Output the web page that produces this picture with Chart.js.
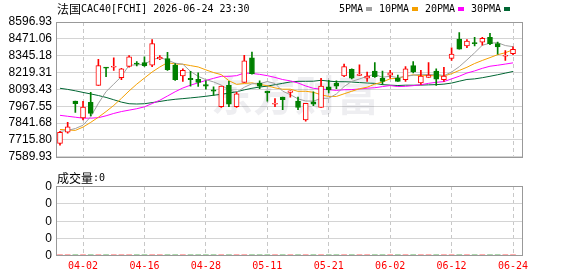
<!DOCTYPE html>
<html>
<head>
<meta charset="utf-8">
<script src="https://cdn.jsdelivr.net/npm/chart.js@4.4.1/dist/chart.umd.min.js"></script>
<style>
  html, body { margin: 0; padding: 0; background: #fff; }
  #wrap { position: relative; width: 578px; height: 276px; overflow: hidden; }
  #main { position: absolute; left: 0; top: 0; }
  #vol { position: absolute; left: 0; top: 166px; }
</style>
</head>
<body>
<div id="wrap">
  <canvas id="main" width="578" height="168"></canvas>
  <canvas id="vol" width="578" height="110"></canvas>
</div>
<script>
// trading days shown
const dates = ["03-30","03-31","04-01","04-02","04-07","04-08","04-09","04-10","04-13","04-14",
  "04-15","04-16","04-17","04-20","04-21","04-22","04-23","04-24","04-27","04-28",
  "04-29","04-30","05-04","05-05","05-06","05-07","05-08","05-11","05-12","05-13",
  "05-14","05-15","05-18","05-19","05-20","05-21","05-22","05-25","05-26","05-27",
  "05-28","05-29","06-01","06-02","06-03","06-04","06-05","06-08","06-09","06-10",
  "06-11","06-12","06-15","06-16","06-17","06-18","06-19","06-22","06-23","06-24"];

const opens = [7690.6, 7773.0, 8005.4, 7880.8, 7996.0, 8123.0, 8258.9, 8258.9, 8181.5, 8265.9,
  8289.2, 8294.1, 8275.1, 8320.2, 8324.4, 8275.1, 8193.4, 8176.5, 8169.5, 8130.0,
  8089.9, 7965.3, 8123.0, 7965.3, 8146.2, 8329.3, 8141.3, 8080.7, 7982.2, 8035.7,
  8071.0, 8005.4, 7864.6, 8000.5, 7958.2, 8113.1, 8141.3, 8193.4, 8242.7, 8197.6,
  8176.5, 8230.7, 8176.5, 8200.5, 8176.5, 8167.0, 8270.9, 8141.3, 8183.5, 8230.7,
  8165.3, 8324.4, 8470.2, 8418.8, 8439.9, 8447.0, 8482.1, 8435.0, 8341.3, 8359.6];
const highs = [7780.0, 7848.0, 8005.4, 8005.0, 8070.9, 8317.4, 8258.9, 8329.3, 8250.0, 8345.5,
  8301.2, 8336.4, 8465.3, 8345.5, 8369.5, 8287.1, 8247.0, 8228.6, 8216.7, 8158.2,
  8113.1, 8118.1, 8153.3, 8070.9, 8348.4, 8371.6, 8158.2, 8080.7, 8024.4, 8035.7,
  8083.0, 8035.7, 7989.2, 8075.8, 8176.5, 8160.3, 8158.2, 8282.2, 8247.0, 8277.9,
  8223.7, 8294.1, 8230.7, 8235.7, 8200.5, 8263.8, 8301.2, 8235.7, 8294.1, 8247.0,
  8258.9, 8404.7, 8517.3, 8465.3, 8482.1, 8482.1, 8512.4, 8447.0, 8383.6, 8411.7];
const lows = [7676.5, 7766.0, 7922.0, 7864.6, 7894.8, 8123.0, 8188.5, 8235.7, 8165.3, 8258.9,
  8268.0, 8265.9, 8263.8, 8315.3, 8235.7, 8160.3, 8153.3, 8118.1, 8115.0, 8094.8,
  8047.7, 7958.2, 7965.3, 7958.2, 8146.2, 8207.5, 8099.0, 8005.4, 7965.3, 7942.0,
  8035.7, 7942.0, 7855.4, 7972.3, 7958.2, 8066.7, 8099.0, 8188.5, 8172.3, 8197.6,
  8153.3, 8183.5, 8130.0, 8176.5, 8153.3, 8153.3, 8216.7, 8130.0, 8183.5, 8123.0,
  8153.3, 8310.3, 8394.8, 8404.7, 8418.8, 8423.0, 8428.0, 8357.5, 8310.3, 8352.5];
const closes = [7773.0, 7813.0, 7986.0, 7961.0, 7913.8, 8270.9, 8251.9, 8266.0, 8246.9, 8336.4,
  8282.2, 8270.9, 8435.0, 8334.3, 8239.9, 8165.3, 8235.7, 8165.3, 8146.2, 8118.1,
  8080.7, 8118.1, 7982.2, 8059.6, 8306.1, 8211.7, 8118.1, 8066.7, 7986.4, 8017.3,
  8082.9, 7958.2, 7989.2, 7982.2, 8118.1, 8089.9, 8118.1, 8263.8, 8176.5, 8207.5,
  8193.4, 8188.5, 8153.3, 8216.7, 8153.3, 8247.0, 8223.7, 8193.4, 8200.5, 8169.5,
  8193.4, 8357.5, 8394.8, 8454.0, 8435.0, 8475.1, 8435.0, 8411.7, 8348.4, 8392.7];

const ma5 = [7780.0, 7787.1, 7801.2, 7825.8, 7889.4, 7988.9, 8076.7, 8132.7, 8189.9, 8274.4,
  8276.7, 8280.5, 8314.3, 8331.8, 8312.5, 8289.1, 8282.0, 8228.1, 8190.5, 8166.1,
  8149.2, 8125.7, 8089.1, 8071.7, 8109.3, 8135.5, 8135.5, 8152.4, 8137.8, 8080.0,
  8054.3, 8022.3, 8006.8, 8006.0, 8026.0, 8027.5, 8059.5, 8114.4, 8153.3, 8171.2,
  8191.9, 8205.9, 8183.8, 8191.9, 8181.0, 8191.8, 8198.8, 8206.8, 8203.6, 8206.8,
  8196.1, 8222.9, 8263.1, 8313.8, 8366.9, 8423.3, 8438.8, 8442.2, 8421.0, 8412.6];
const ma10 = [7794.1, 7790.6, 7787.1, 7811.8, 7847.0, 7885.7, 7927.9, 7973.7, 8026.5, 8081.9,
  8132.8, 8178.6, 8223.5, 8260.8, 8293.4, 8282.9, 8281.3, 8271.2, 8261.1, 8239.3,
  8219.1, 8203.9, 8158.6, 8131.1, 8137.7, 8142.4, 8130.6, 8120.8, 8104.8, 8094.7,
  8094.9, 8078.9, 8079.6, 8071.9, 8053.1, 8040.9, 8040.9, 8060.6, 8079.6, 8098.6,
  8109.7, 8132.7, 8149.1, 8172.6, 8176.1, 8191.8, 8202.4, 8195.3, 8197.7, 8193.9,
  8193.9, 8210.8, 8235.0, 8258.7, 8286.9, 8309.7, 8330.8, 8352.7, 8367.4, 8389.8];
const ma20 = [7899.8, 7892.7, 7885.7, 7878.6, 7878.6, 7882.2, 7896.3, 7913.8, 7927.9, 7938.5,
  7949.1, 7963.1, 7987.8, 8012.4, 8044.1, 8075.8, 8104.0, 8125.1, 8142.7, 8160.6,
  8176.0, 8191.2, 8191.0, 8196.0, 8215.6, 8212.6, 8205.9, 8196.0, 8182.9, 8167.0,
  8157.0, 8141.4, 8119.1, 8101.5, 8095.4, 8091.6, 8085.8, 8090.7, 8092.2, 8096.7,
  8102.3, 8105.8, 8114.4, 8122.2, 8114.6, 8116.4, 8121.6, 8128.0, 8138.7, 8146.3,
  8151.8, 8171.8, 8192.1, 8215.6, 8231.5, 8250.8, 8266.6, 8274.0, 8282.6, 8291.8];
const ma30 = [8101.9, 8093.4, 8082.9, 8070.9, 8059.6, 8047.7, 8033.6, 8016.0, 7998.4, 7986.4,
  7984.3, 7986.4, 7994.8, 8003.3, 8012.4, 8019.5, 8024.4, 8030.0, 8035.7, 8042.0,
  8049.8, 8056.8, 8065.3, 8075.8, 8089.9, 8101.9, 8111.0, 8118.1, 8128.6, 8138.6,
  8149.0, 8153.8, 8153.9, 8154.6, 8161.4, 8155.4, 8150.9, 8150.9, 8148.5, 8144.2,
  8141.2, 8138.5, 8129.1, 8125.2, 8122.3, 8125.0, 8124.6, 8125.6, 8127.4, 8129.1,
  8132.8, 8140.8, 8154.6, 8167.7, 8172.0, 8180.8, 8191.4, 8202.9, 8215.0, 8227.4];

const volumes = [0,0,0,0,0,0,0,0,0,0, 0,0,0,0,0,0,0,0,0,0, 0,0,0,0,0,0,0,0,0,0,
  0,0,0,0,0,0,0,0,0,0, 0,0,0,0,0,0,0,0,0,0, 0,0,0,0,0,0,0,0,0,0];

const priceTicks = [8596.93, 8471.06, 8345.18, 8219.31, 8093.43, 7967.55, 7841.68, 7715.80, 7589.93];
const volumeTicks = ["0", "0", "0", "0", "0"];
const dateTicks = ["04-02", "04-16", "04-28", "05-11", "05-21", "06-02", "06-12", "06-24"];

const titleText = "法国CAC40[FCHI] 2026-06-24 23:30";
const volumeText = "成交量:0";
const watermark = "东方财富";
const maNames = ["5PMA", "10PMA", "20PMA", "30PMA"];
const maColors = ["#a0a0a0", "#f5a000", "#ff00ff", "#006633"];

const RED = "#ff0000";
const GREEN = "#008000";
const isUp = i => closes[i] >= opens[i];

// x range so that candle centres line up with the reference
const xMin = -0.52, xMax = 60.17;

function drawMixed(ctx, text, x, y) {
  for (const ch of text) {
    const cjk = /[\u3000-\u9fff\uff00-\uffef]/.test(ch);
    ctx.font = cjk ? '12px "Noto Sans CJK SC"' : '10px "DejaVu Sans Mono"';
    ctx.fillText(ch, x, y);
    x += ctx.measureText(ch).width;
  }
  return x;
}

const frame = {
  id: "frame",
  afterDraw(chart) {
    const { ctx, chartArea: a } = chart;
    ctx.save();
    ctx.strokeStyle = "#999";
    ctx.lineWidth = 1;
    ctx.strokeRect(Math.round(a.left) + 0.5, Math.round(a.top) + 0.5,
      Math.round(a.right - a.left), Math.round(a.bottom - a.top));
    ctx.restore();
  }
};

const mainText = {
  id: "mainText",
  beforeDatasetsDraw(chart) {
    const { ctx } = chart;
    ctx.save();
    ctx.font = 'bold 42px "Noto Sans CJK SC"';
    ctx.fillStyle = "rgba(20,20,60,0.07)";
    ctx.textAlign = "center";
    ctx.textBaseline = "middle";
    ctx.fillText(watermark, 295, 95);
    ctx.restore();
  },
  afterDraw(chart) {
    const { ctx } = chart;
    ctx.save();
    ctx.fillStyle = "#000";
    ctx.textBaseline = "middle";
    drawMixed(ctx, titleText, 57, 9);
    let x = 339;
    maNames.forEach((name, k) => {
      ctx.fillStyle = "#000";
      x = drawMixed(ctx, name, x, 9);
      ctx.fillStyle = maColors[k];
      ctx.fillRect(Math.round(x) + 3, 7, 6, 4);
      x = Math.round(x) + 16;
    });
    ctx.restore();
  }
};

// volume panel: its value axis is all zero, so lines and "0" labels are placed
// from the y scale directly
const volText = {
  id: "volText",
  beforeDatasetsDraw(chart) {
    const { ctx, chartArea: a, scales: { y } } = chart;
    ctx.save();
    ctx.strokeStyle = "#d4d4d4";
    ctx.lineWidth = 1;
    ctx.fillStyle = "#000";
    ctx.font = '12px "Liberation Sans"';
    ctx.textAlign = "right";
    ctx.textBaseline = "middle";
    volumeTicks.forEach((t, i) => {
      const py = Math.round(y.getPixelForValue(i)) + 0.5;
      ctx.beginPath();
      ctx.moveTo(a.left, py);
      ctx.lineTo(a.right, py);
      ctx.stroke();
      ctx.fillText(t, a.left - 4, py);
    });
    ctx.restore();
  },
  afterDraw(chart) {
    const { ctx } = chart;
    ctx.save();
    ctx.fillStyle = "#000";
    ctx.textBaseline = "middle";
    drawMixed(ctx, volumeText, 57, 12);
    ctx.restore();
  }
};

const xTicks = s => { s.ticks = dateTicks.map(d => ({ value: dates.indexOf(d) })); };

new Chart(document.getElementById("main"), {
  type: "bar",
  data: {
    datasets: [
      {
        label: "body",
        data: dates.map((d, i) => ({ x: i, y: [opens[i], closes[i]] })),
        grouped: false,
        barThickness: 5,
        minBarLength: 1,
        borderWidth: 1,
        borderSkipped: false,
        backgroundColor: c => isUp(c.dataIndex) ? "#ffffff" : GREEN,
        borderColor: c => isUp(c.dataIndex) ? RED : GREEN,
        order: 0
      },
      {
        label: "wick",
        data: dates.map((d, i) => ({ x: i, y: [lows[i], highs[i]] })),
        grouped: false,
        barThickness: 1,
        borderWidth: 0,
        backgroundColor: c => isUp(c.dataIndex) ? RED : GREEN,
        order: 1
      },
      ...[ma5, ma10, ma20, ma30].map((arr, k) => ({
        type: "line",
        label: maNames[k],
        data: arr.map((v, i) => ({ x: i, y: v })),
        borderColor: maColors[k],
        borderWidth: 1,
        pointRadius: 0,
        tension: 0,
        order: 10 + k
      }))
    ]
  },
  options: {
    responsive: false,
    animation: false,
    events: [],
    layout: { padding: { left: 0, right: 56, top: 22, bottom: 3 } },
    plugins: { legend: { display: false }, tooltip: { enabled: false } },
    scales: {
      x: {
        type: "linear",
        min: xMin,
        max: xMax,
        offset: false,
        afterBuildTicks: xTicks,
        ticks: { display: false, autoSkip: false },
        grid: { color: "#c8c8c8", drawTicks: false, offset: false },
        border: { display: false, dash: [4, 3] },
        afterFit: s => { s.height = 0; }
      },
      y: {
        min: priceTicks[priceTicks.length - 1],
        max: priceTicks[0],
        afterBuildTicks: s => { s.ticks = priceTicks.map(v => ({ value: v })); },
        ticks: {
          autoSkip: false,
          callback: v => v.toFixed(2),
          color: "#000",
          padding: 4,
          font: { family: "Liberation Sans", size: 12 }
        },
        grid: { color: "#d4d4d4", drawTicks: false },
        border: { display: false },
        afterFit: s => { s.width = 56; }
      }
    }
  },
  plugins: [mainText, frame]
});

new Chart(document.getElementById("vol"), {
  type: "bar",
  data: {
    datasets: [{
      label: "volume",
      data: volumes.map((v, i) => ({ x: i, y: v })),
      barThickness: 5,
      backgroundColor: c => isUp(c.dataIndex) ? RED : GREEN
    }]
  },
  options: {
    responsive: false,
    animation: false,
    events: [],
    layout: { padding: { left: 0, right: 56, top: 20, bottom: 0 } },
    plugins: { legend: { display: false }, tooltip: { enabled: false } },
    scales: {
      x: {
        type: "linear",
        min: xMin,
        max: xMax,
        offset: false,
        afterBuildTicks: xTicks,
        ticks: {
          autoSkip: false,
          maxRotation: 0,
          padding: 5,
          color: RED,
          font: { family: "DejaVu Sans Mono", size: 10 },
          callback: v => dates[v]
        },
        grid: { color: "#c8c8c8", drawTicks: false, offset: false },
        border: { display: false, dash: [4, 3] },
        afterFit: s => { s.height = 21; }
      },
      y: {
        min: 0,
        max: volumeTicks.length - 1,
        afterDataLimits: s => { s.min = 0; s.max = volumeTicks.length - 1; },
        ticks: { display: false },
        grid: { display: false },
        border: { display: false },
        afterFit: s => { s.width = 56; }
      }
    }
  },
  plugins: [volText, frame]
});
</script>
</body>
</html>
